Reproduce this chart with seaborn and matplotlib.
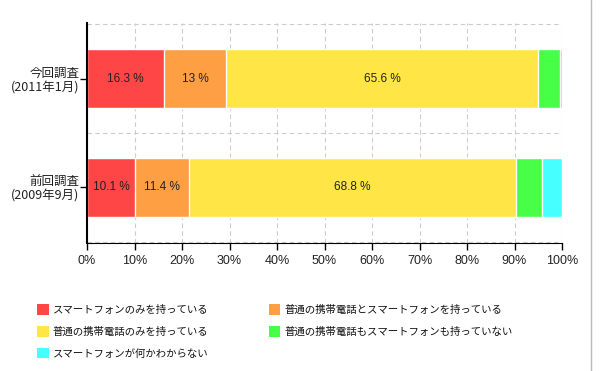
import matplotlib
matplotlib.use("Agg")
import matplotlib.pyplot as plt
from matplotlib.lines import Line2D
from matplotlib.patches import Patch
import numpy as np
import pandas as pd
import seaborn as sns

# survey rows and answer shares (%)
surveys = ["今回調査\n(2011年1月)", "前回調査\n(2009年9月)"]
answers = ["スマートフォンのみを持っている",
           "普通の携帯電話とスマートフォンを持っている",
           "普通の携帯電話のみを持っている",
           "普通の携帯電話もスマートフォンも持っていない",
           "スマートフォンが何かわからない"]
smart_only = [16.3, 10.1]
both = [13.0, 11.4]
feature_only = [65.6, 68.8]
neither = [4.7, 5.5]
unknown = [0.4, 4.2]
colors = ["#FF4646", "#FF9F44", "#FFE646", "#46FF46", "#46FFFF"]

sns.set_style("white")
plt.rcParams["font.family"] = ["Noto Sans CJK JP", "DejaVu Sans"]

shares = np.array([smart_only, both, feature_only, neither, unknown])
cum = shares.cumsum(axis=0)
rows = []
for i, a in enumerate(answers):
    for j, s in enumerate(surveys):
        rows.append({"answer": a, "survey": s, "value": shares[i, j],
                     "right": cum[i, j], "left": cum[i, j] - shares[i, j]})
df = pd.DataFrame(rows)

fig = plt.figure(figsize=(6.01, 3.71), dpi=100)
ax = fig.add_axes([87 / 601, 1 - 243 / 371, 475 / 601, 220 / 371])

# stacked bars: draw cumulative totals from longest to shortest
for i in reversed(range(len(answers))):
    sub = df[df["answer"] == answers[i]]
    sns.barplot(data=sub, x="right", y="survey", order=surveys, orient="h",
                color=colors[i], saturation=1, width=0.54, ax=ax)

for _, r in df[df["answer"].isin(answers[:3])].iterrows():
    txt = f"{r['value']:g} %"
    ax.text((r["left"] + r["right"]) / 2, surveys.index(r["survey"]), txt,
            ha="center", va="center", fontsize=8.5, color="#222222",
            family=["Liberation Sans", "DejaVu Sans"])

ax.set_xlim(0, 100)
ax.set_ylim(1.51, -0.51)
ax.set_xticks(np.arange(0, 101, 10))
ax.set_xticklabels([f"{v}%" for v in range(0, 101, 10)], fontsize=9,
                   family=["Liberation Sans", "DejaVu Sans"], color="#222222")
ax.set_yticks(range(len(surveys)))
ax.set_yticklabels(surveys, fontsize=9, color="#222222", linespacing=1.1,
                   multialignment="right")
ax.set_yticks([-0.5, 0.5, 1.5], minor=True)
ax.set_xlabel("")
ax.set_ylabel("")
ax.tick_params(axis="both", which="major", length=5, width=1, color="black",
               bottom=True, left=True, pad=4)
ax.tick_params(axis="y", which="major", pad=0.5)
ax.tick_params(axis="y", which="minor", length=0)
ax.grid(True, axis="x", which="major", linestyle=(0, (4, 3)), color="#CCCCCC", lw=0.8)
ax.grid(True, axis="y", which="minor", linestyle=(0, (4, 3)), color="#CCCCCC", lw=0.8)
ax.set_axisbelow(True)
for side in ["top", "right"]:
    ax.spines[side].set_visible(False)
ax.spines["left"].set_color("black")
ax.spines["left"].set_linewidth(1.5)
ax.spines["bottom"].set_color("black")

handles = [Patch(facecolor=c, edgecolor="none") for c in colors]
order = [0, 2, 4, 1, 3]
leg = fig.legend([handles[k] for k in order], [answers[k] for k in order],
                 ncol=2, loc="upper left", bbox_to_anchor=(33 / 601, 1 - 300 / 371),
                 frameon=False, fontsize=7.5, handlelength=1.1, handleheight=1.2,
                 handletextpad=0.4, columnspacing=5.8, labelspacing=1.05,
                 borderaxespad=0, labelcolor="#111111")

fig.add_artist(Line2D([591 / 601, 591 / 601], [0, 1], color="#BBBBBB", lw=1))

fig.savefig("out.png", dpi=100)
